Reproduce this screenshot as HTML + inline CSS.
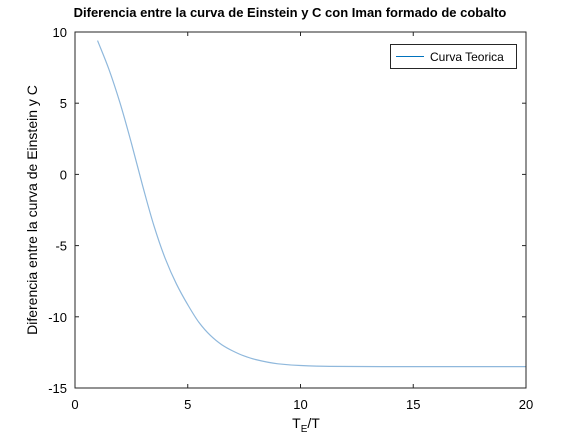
<!DOCTYPE html>
<html><head><meta charset="utf-8"><style>
body{margin:0;background:#fff;}
svg{display:block;font-family:"Liberation Sans",sans-serif;}
</style></head><body>
<svg id="chart" width="581" height="436">
<rect width="581" height="436" fill="#fff"/>
<text x="290" y="17" text-anchor="middle" font-size="13" font-weight="bold">Diferencia entre la curva de Einstein y C con Iman formado de cobalto</text>
<g id="axes"></g>
<path id="curve" fill="none" stroke="#8fb8dc" stroke-width="1.2"/>
<rect x="75" y="32" width="451" height="356" fill="none" stroke="#262626" stroke-width="1"/>
<g>
<rect x="390.5" y="44.5" width="126" height="24" fill="#fff" stroke="#262626" stroke-width="1"/>
<line x1="396" y1="56.5" x2="424" y2="56.5" stroke="#0072bd" stroke-width="1"/>
<text x="430" y="61" font-size="12">Curva Teorica</text>
</g>
<text x="306" y="428" text-anchor="middle" font-size="14">T<tspan font-size="10" dy="4">E</tspan><tspan dy="-4">/T</tspan></text>
<text transform="translate(37,210) rotate(-90)" text-anchor="middle" font-size="14">Diferencia entre la curva de Einstein y C</text>
</svg>
<script>
const xs=[1,1.5,2,2.5,3,3.5,4,4.5,5,5.5,6,6.5,7,7.5,8,9,10,11.3,14,20];
const ys=[9.4,7.4,5.0,2.2,-0.8,-3.6,-5.9,-7.7,-9.15,-10.4,-11.3,-11.95,-12.4,-12.75,-13.0,-13.3,-13.42,-13.48,-13.5,-13.5];
const xTicks=[0,5,10,15,20];
const yTicks=[-15,-10,-5,0,5,10];
const L=75,R=526,T=32,B=388;
function sx(v){return L+(v-0)/(20-0)*(R-L);}
function sy(v){return B-(v+15)/(25)*(B-T);}
const ns="http://www.w3.org/2000/svg";
const ax=document.getElementById('axes');
function mk(t,a){const e=document.createElementNS(ns,t);for(const k in a)e.setAttribute(k,a[k]);return e;}
xTicks.forEach(v=>{
 const x=sx(v);
 const l=mk('line',{x1:x,x2:x,y1:B,y2:B-4,stroke:'#262626'});
 
 
 ax.appendChild(l);
 const l2=mk('line',{x1:x,x2:x,y1:T,y2:T+4,stroke:'#262626'});
 
 
 ax.appendChild(l2);
 const t=mk('text',{x:x,y:B+21,'text-anchor':'middle','font-size':13});
 
 
 t.textContent=v;ax.appendChild(t);
});
yTicks.forEach(v=>{
 const y=sy(v);
 const l=mk('line',{x1:L,x2:L+4,y1:y,y2:y,stroke:'#262626'});
 
 
 ax.appendChild(l);
 const l2=mk('line',{x1:R,x2:R-4,y1:y,y2:y,stroke:'#262626'});
 
 
 ax.appendChild(l2);
 const t=mk('text',{x:L-8,y:y+5,'text-anchor':'end','font-size':13});
 
 
 t.textContent=v;ax.appendChild(t);
});
const n=xs.length;
const dl=[],m=new Array(n);
for(let i=0;i<n-1;i++)dl.push((ys[i+1]-ys[i])/(xs[i+1]-xs[i]));
m[0]=dl[0];m[n-1]=dl[n-2];
for(let i=1;i<n-1;i++){
 if(dl[i-1]*dl[i]<=0)m[i]=0;
 else{const h0=xs[i]-xs[i-1],h1=xs[i+1]-xs[i];const w1=2*h1+h0,w2=h1+2*h0;m[i]=(w1+w2)/(w1/dl[i-1]+w2/dl[i]);}
}
let d='M'+sx(xs[0])+','+sy(ys[0]);
for(let i=0;i<n-1;i++){
 const h=xs[i+1]-xs[i];
 const c1x=xs[i]+h/3,c1y=ys[i]+m[i]*h/3;
 const c2x=xs[i+1]-h/3,c2y=ys[i+1]-m[i+1]*h/3;
 d+=' C'+sx(c1x)+','+sy(c1y)+' '+sx(c2x)+','+sy(c2y)+' '+sx(xs[i+1])+','+sy(ys[i+1]);
}
document.getElementById('curve').setAttribute('d',d);
</script>
</body></html>
